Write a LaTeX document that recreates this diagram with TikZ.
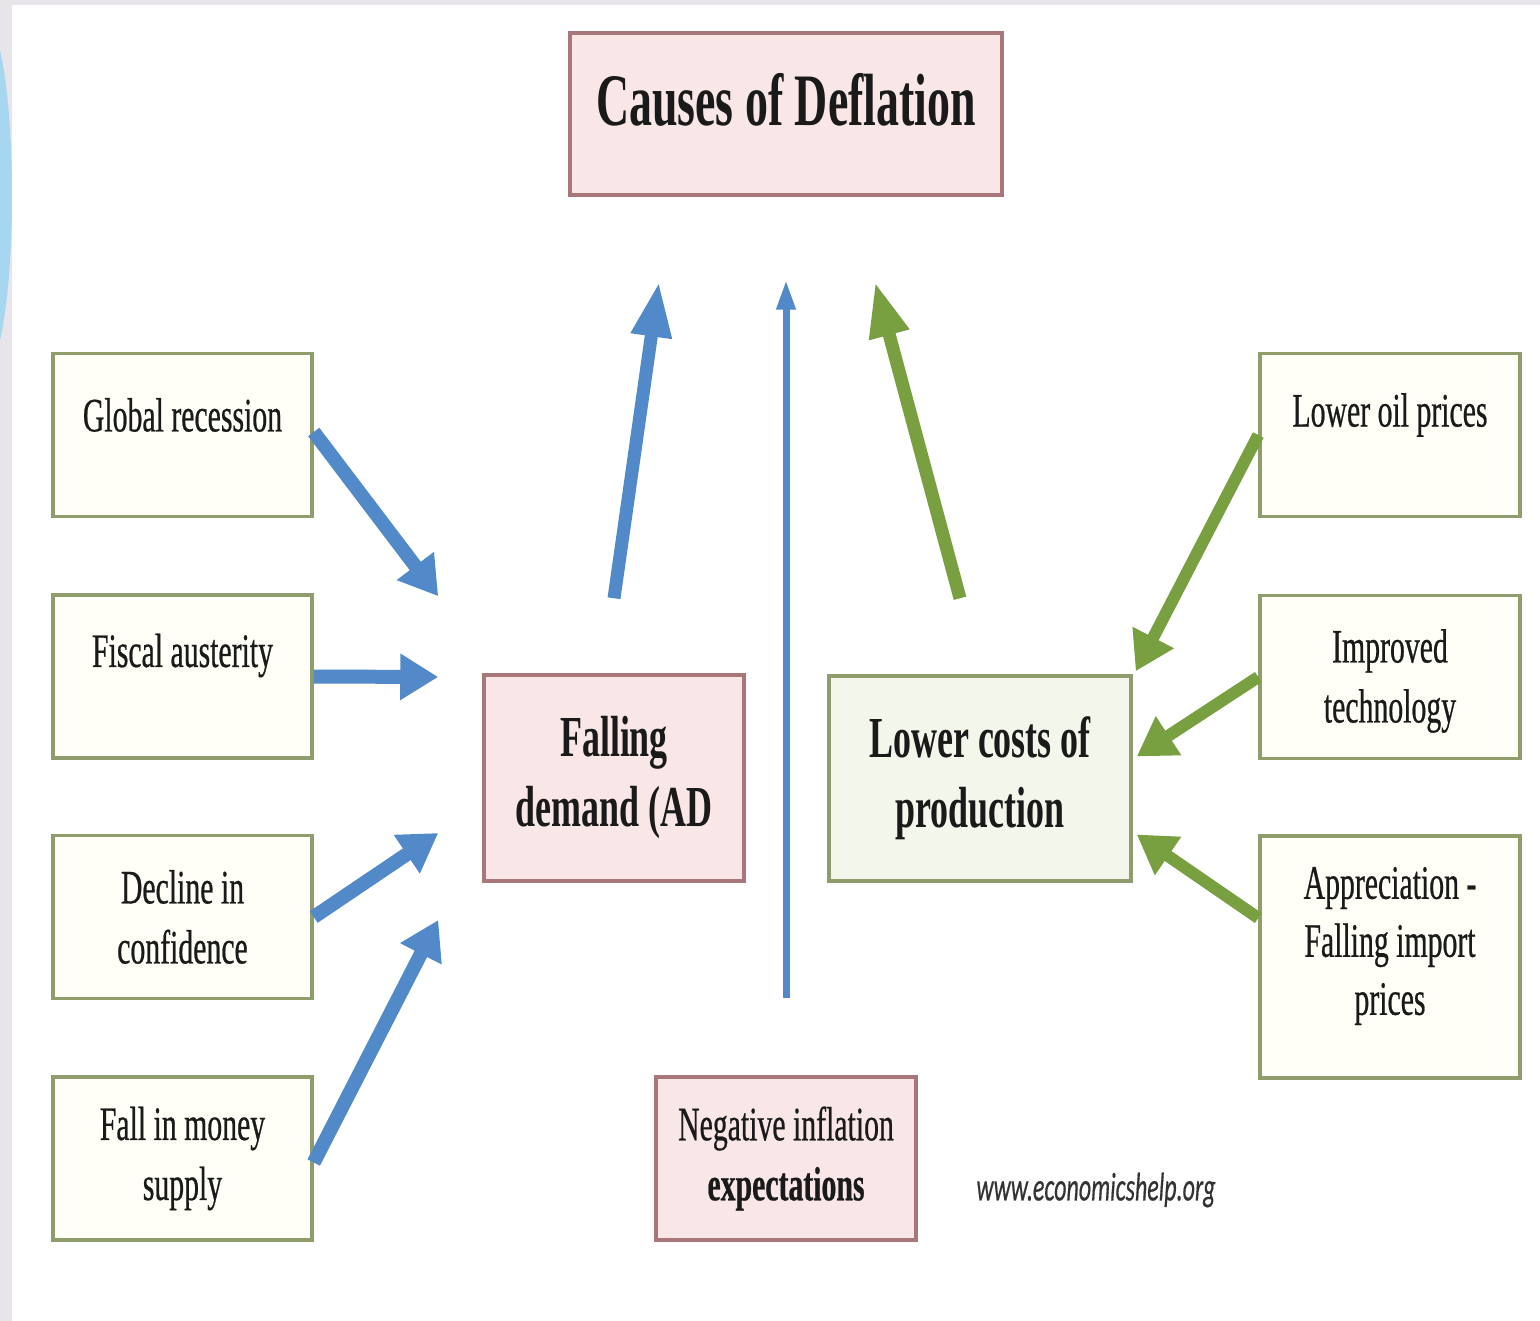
\documentclass[tikz,border=0pt]{standalone}
\usepackage{fontspec}
\setmainfont{Liberation Serif}[FakeStretch=0.62]
\newfontfamily\regfam{Liberation Serif}[FakeStretch=0.62, FakeBold=0.5]
\newfontfamily\webfont{Carlito}[FakeStretch=0.6, FakeBold=0.4]
\usetikzlibrary{arrows.meta,calc}
\definecolor{bgl}{HTML}{E7E4EA}
\definecolor{arcblue}{HTML}{A6D6F0}
\definecolor{pinkedge}{HTML}{A9767A}
\definecolor{pinkfill}{HTML}{F9E7E7}
\definecolor{greenedge}{HTML}{8F9C6C}
\definecolor{greenfill}{HTML}{F3F6EA}
\definecolor{paleyellow}{HTML}{FFFFF7}
\definecolor{arrblue}{HTML}{528AC9}
\definecolor{arrgreen}{HTML}{78A040}
\definecolor{txtc}{HTML}{1A1A1A}
\begin{document}
\begin{tikzpicture}[x=1pt,y=-1pt,
  pinkbox/.style={draw=pinkedge, fill=pinkfill, line width=3.5pt, inner sep=0pt, align=center, text=txtc},
  greenbox/.style={draw=greenedge, fill=greenfill, line width=3.5pt, inner sep=0pt, align=center, text=txtc},
  sidebox/.style={draw=greenedge, fill=paleyellow, line width=3.5pt, inner sep=0pt, align=center, text=txtc,
    minimum width=259pt, minimum height=163pt},
  regfont/.style={font=\regfam\fontsize{48}{60}\selectfont, text=txtc},
  boldfont/.style={font=\fontsize{58}{70}\selectfont\bfseries, text=txtc},
  titlefont/.style={font=\fontsize{74}{80}\selectfont\bfseries, text=txtc},
  sidearrow/.style={line width=14pt, -{Triangle[length=38pt,width=44pt]}},
  uparrow/.style={line width=13pt, -{Triangle[length=55pt,width=38pt]}},
  thinarrow/.style={line width=7pt, -{Triangle[length=30pt,width=18pt]}},
  bluearr/.style={draw=arrblue},
  greenarr/.style={draw=arrgreen}]
\useasboundingbox (0,0) rectangle (1540,1321);
\fill[bgl] (0,0) rectangle (1540,1321);
\fill[arcblue] (0,50) .. controls (16,120) and (16,270) .. (0,340) -- cycle;
\fill[white] (12,5) rectangle (1540,1321);

% title
\node[pinkbox, minimum width=432pt, minimum height=162pt,
  label={[titlefont, yshift=14pt]center:Causes of Deflation}] (title) at (786,114) {};

% left boxes
\node[sidebox, label={[regfont, yshift=20pt]center:Global recession}] (gr) at (182.5,435) {};
\node[sidebox, label={[regfont, yshift=21pt]center:Fiscal austerity}] (fa) at (182.5,676.5) {};
\node[sidebox, regfont] (dc) at (182.5,917) {Decline in\\confidence};
\node[sidebox, regfont] (fm) at (182.5,1158.5) {Fall in money\\supply};

% central boxes
\node[pinkbox, boldfont, minimum width=260pt, minimum height=206pt] (fd) at (614,778) {Falling\\demand (AD};
\node[greenbox, boldfont, minimum width=302pt, minimum height=205pt] (lc) at (980,778.5) {Lower costs of\\production};
\node[pinkbox, regfont, minimum width=260pt, minimum height=163pt] (ni) at (786,1158.5)
  {Negative inflation\\{\bfseries expectations}};

% right boxes
\node[sidebox, minimum width=260pt, label={[regfont, yshift=20pt]center:Lower oil prices}] (lo) at (1390,435) {};
\node[sidebox, minimum width=260pt,
  label={[regfont, align=center, yshift=-4pt]center:Improved\\technology}] (it) at (1390,677) {};
\node[sidebox, minimum width=260pt, minimum height=242pt,
  label={[regfont, align=center, yshift=11pt, font=\regfam\fontsize{48}{58}\selectfont]center:Appreciation -\\Falling import\\prices}] (ap) at (1390,957) {};

% website
\node[font=\webfont\itshape\fontsize{40}{40}\selectfont, text=black!80] (web) at (1096,1190) {www.economicshelp.org};

% arrow end points
\coordinate (t1) at ($(fd.north west)+(-44,-77)$);
\coordinate (t2) at ($(fd.west)+(-44,-101)$);
\coordinate (t3) at ($(fd.west)+(-44,55)$);
\coordinate (t4) at ($(fd.west)+(-44,142)$);
\coordinate (s5) at ($(fd.north)+(0,-75)$);
\coordinate (t5) at ($(title.south)+(-127,85)$);
\coordinate (s6) at ($(ni.north)+(0,-77)$);
\coordinate (t6) at ($(title.south)+(0,83)$);
\coordinate (s7) at ($(lc.north)+(-20,-76)$);
\coordinate (t7) at ($(title.south)+(89,85)$);
\coordinate (t8) at ($(lc.north east)+(3,-3)$);
\coordinate (t9) at ($(lc.east)+(4,-22)$);
\coordinate (t10) at ($(lc.east)+(4,56)$);

% blue arrows
\draw[bluearr, sidearrow] ([yshift=3pt]gr.east) -- (t1);
\draw[bluearr, sidearrow] (fa.east) -- (t2);
\draw[bluearr, sidearrow] (dc.east) -- (t3);
\draw[bluearr, sidearrow] ([yshift=-4pt]fm.east) -- (t4);
\draw[bluearr, uparrow] (s5) -- (t5);
\draw[bluearr, thinarrow] (s6) -- (t6);

% green arrows
\draw[greenarr, uparrow] (s7) -- (t7);
\draw[greenarr, sidearrow, line width=12pt] (lo.west) -- (t8);
\draw[greenarr, sidearrow, line width=12pt] (it.west) -- (t9);
\draw[greenarr, sidearrow, line width=12pt] ([yshift=39pt]ap.west) -- (t10);
\end{tikzpicture}
\end{document}
